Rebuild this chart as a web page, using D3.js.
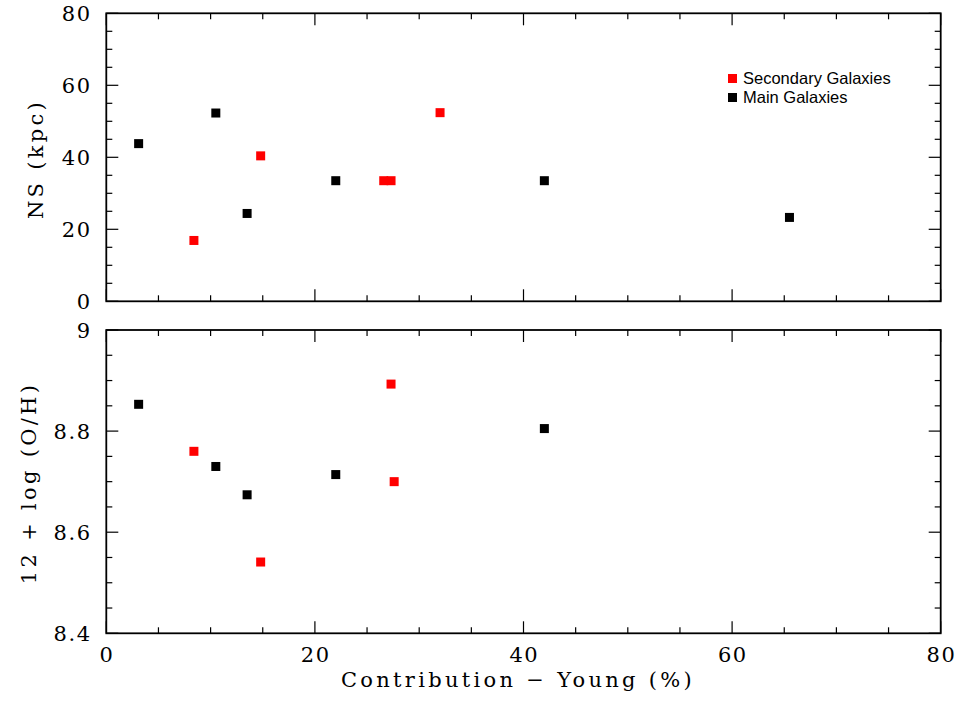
<!DOCTYPE html>
<html><head><meta charset="utf-8">
<script src="https://cdn.jsdelivr.net/npm/d3@7"></script>
<style>body{margin:0;background:#fff;} svg{display:block;}</style>
</head><body>
<svg id="chart" width="959" height="702"></svg>
<script>
// Main galaxies
const mainX   = [3.1, 10.5, 13.5, 22.0, 42.0, 65.5];
const mainNS  = [43.8, 52.3, 24.4, 33.5, 33.5, 23.3];
const mainOHx = [3.1, 10.5, 13.5, 22.0, 42.0];
const mainOH  = [8.853, 8.730, 8.674, 8.714, 8.805];
// Secondary galaxies
const secX    = [8.4, 14.8, 26.6, 27.3, 32.0];
const secNS   = [16.9, 40.4, 33.5, 33.5, 52.4];
const secOHx  = [8.4, 14.8, 27.3, 27.6];
const secOH   = [8.760, 8.541, 8.893, 8.700];

const xTicks = [0, 20, 40, 60, 80];
const nsTicks = [0, 20, 40, 60, 80];
const ohTicks = [8.4, 8.6, 8.8, 9];
const legendLabels = ["Secondary Galaxies", "Main Galaxies"];
const legendColors = ["#ff0000", "#000000"];

const svg = d3.select("#chart");
const L = 106.3, R = 940.7;
const x = d3.scaleLinear().domain([0, 80]).range([L, R]);
const yTop = d3.scaleLinear().domain([0, 80]).range([301.3, 13.3]);
const yBot = d3.scaleLinear().domain([8.4, 9]).range([633.3, 330]);

const serif = "'DejaVu Serif', serif";
const LS = 3.3;
const MAJ = 12, MIN = 6;

function panel(y, yTicksMajor, yMinorStep, yFmt, showXLabels) {
  const g = svg.append("g");
  const [y0, y1] = y.domain();
  g.append("rect").attr("x", L).attr("y", y.range()[1])
    .attr("width", R - L).attr("height", y.range()[0] - y.range()[1])
    .attr("fill", "none").attr("stroke", "#000").attr("stroke-width", 1.8);
  const xMinor = d3.range(0, 80.001, 5);
  xMinor.forEach(v => {
    const len = (v % 20 === 0) ? MAJ : MIN;
    g.append("line").attr("x1", x(v)).attr("x2", x(v))
      .attr("y1", y.range()[0]).attr("y2", y.range()[0] - len)
      .attr("stroke", "#000").attr("stroke-width", 1.2);
    g.append("line").attr("x1", x(v)).attr("x2", x(v))
      .attr("y1", y.range()[1]).attr("y2", y.range()[1] + len)
      .attr("stroke", "#000").attr("stroke-width", 1.2);
  });
  const n = Math.round((y1 - y0) / yMinorStep);
  for (let i = 0; i <= n; i++) {
    const v = y0 + i * yMinorStep;
    const isMaj = yTicksMajor.some(t => Math.abs(t - v) < 1e-6);
    const len = isMaj ? MAJ : MIN;
    g.append("line").attr("x1", L).attr("x2", L + len)
      .attr("y1", y(v)).attr("y2", y(v)).attr("stroke", "#000").attr("stroke-width", 1.2);
    g.append("line").attr("x1", R).attr("x2", R - len)
      .attr("y1", y(v)).attr("y2", y(v)).attr("stroke", "#000").attr("stroke-width", 1.2);
  }
  g.selectAll("text.yl").data(yTicksMajor).enter().append("text")
    .attr("x", 90 + 1.5).attr("y", d => y(d)).attr("dy", "0.36em")
    .attr("text-anchor", "end").attr("font-family", serif).attr("font-size", 21)
    .attr("letter-spacing", 1.5)
    .text(yFmt);
  if (showXLabels) {
    g.selectAll("text.xl").data(xTicks).enter().append("text")
      .attr("x", d => x(d) + 0.75).attr("y", 662)
      .attr("text-anchor", "middle").attr("font-family", serif).attr("font-size", 21)
      .attr("letter-spacing", 1.5)
      .text(d => d);
  }
  return g;
}

panel(yTop, nsTicks, 5, d => d, false);
panel(yBot, ohTicks, 0.05, d => d3.format("")(d), true);

const S = 9;
function pts(xs, ys, y, color) {
  svg.append("g").selectAll("rect").data(xs.map((d, i) => [d, ys[i]])).enter()
    .append("rect").attr("x", d => x(d[0]) - S / 2).attr("y", d => y(d[1]) - S / 2)
    .attr("width", S).attr("height", S).attr("fill", color);
}
pts(mainX, mainNS, yTop, "#000");
pts(secX, secNS, yTop, "#ff0000");
pts(mainOHx, mainOH, yBot, "#000");
pts(secOHx, secOH, yBot, "#ff0000");

// axis labels
svg.append("text").attr("transform", "translate(43,159) rotate(-90)")
  .attr("text-anchor", "middle").attr("font-family", serif).attr("font-size", 21)
  .attr("letter-spacing", LS)
  .text("NS (kpc)");
svg.append("text").attr("transform", "translate(36,483) rotate(-90)")
  .attr("text-anchor", "middle").attr("font-family", serif).attr("font-size", 21)
  .attr("letter-spacing", LS)
  .text("12 + log (O/H)");
svg.append("text").attr("x", 518).attr("y", 687)
  .attr("text-anchor", "middle").attr("font-family", serif).attr("font-size", 21)
  .attr("letter-spacing", LS)
  .text("Contribution \u2212 Young (%)");

// legend
const lg = svg.append("g");
legendLabels.forEach((t, i) => {
  const yy = 78.5 + i * 19;
  lg.append("rect").attr("x", 728).attr("y", yy - 4.5).attr("width", 9).attr("height", 9)
    .attr("fill", legendColors[i]);
  lg.append("text").attr("x", 743).attr("y", yy).attr("dy", "0.36em")
    .attr("font-family", "'Liberation Sans', Arial, sans-serif").attr("font-size", 16.5)
    .text(t);
});
</script>
</body></html>
